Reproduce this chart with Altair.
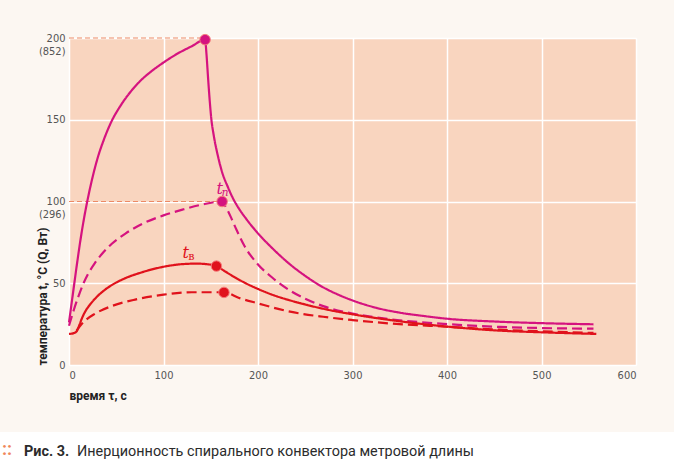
import altair as alt
import pandas as pd

# ---------------- data ----------------
# solid magenta curve
mag_solid_t = [0, 4, 8, 12, 16, 20, 25, 30, 37, 45, 55, 65, 75, 88, 100, 115, 130, 144,
               145.5, 147, 149, 150.6, 153, 157.7, 162, 168, 175.3, 180, 188, 200, 215, 234, 250, 269, 285,
               300, 325, 350, 375, 400, 450, 500, 555]
mag_solid_v = [26, 43, 60, 76, 90, 102, 115, 126, 138, 149, 159, 167, 173.5, 180, 185, 190.5, 195, 199,
               190, 177, 161, 150.5, 141, 127.5, 118, 109, 100, 95.5, 89, 80.5, 71.5, 61.5, 54.5, 47.5, 43,
               39.5, 35, 32, 30, 28.3, 26.6, 25.6, 24.9]
# dashed magenta curve (t_п)
mag_dash_t = [0, 5, 10, 15, 20, 27, 35, 45, 60, 80, 100, 120, 140, 162,
              165, 168, 172, 177, 186, 200, 215, 234, 250, 269, 300, 340, 400, 456, 555]
mag_dash_v = [24, 33.5, 42, 49.5, 55.5, 62, 68, 74, 80.5, 87, 91.5, 95, 98, 100,
              97.5, 94.5, 89.5, 83, 72.5, 61.5, 53.5, 45.5, 40.5, 36, 31.5, 28, 25, 23.3, 22.2]
# solid red curve (t_в)
red_solid_t = [0, 5, 8, 11, 14, 18, 23, 30, 38, 48, 60, 75, 90, 105, 120, 135, 147, 156,
               165, 175, 187, 200, 215, 234, 250, 269, 300, 340, 400, 456, 500, 558]
red_solid_v = [19, 19.5, 20.5, 24.5, 29, 33.5, 37.5, 42, 46, 49.8, 53.2, 56.3, 58.8, 60.6, 61.7, 62, 61.6, 60.5,
               57.3, 53.8, 50, 46.5, 43, 39.5, 37, 34.4, 31, 27.5, 23.5, 21, 20, 19]
# dashed red curve
red_dash_t = [8, 15, 28, 45, 70, 100, 130, 164,
              180, 200, 234, 269, 300, 340, 400, 456, 500, 555]
red_dash_v = [21, 26, 31.5, 36, 40, 43, 44.5, 44.5,
              41, 37.7, 32.6, 29.5, 27.5, 25.4, 23.4, 21.6, 20.6, 19.6]

series_names = ["mag_solid", "mag_dash", "red_solid", "red_dash"]
series_colors = ["#D5137F", "#D5137F", "#E0121C", "#E0121C"]
series_dashes = [[1, 0], [10, 5], [1, 0], [10, 5]]

# peak markers
dot_t = [144, 162, 156, 164]
dot_v = [199, 100, 60.5, 44.4]
dot_series = ["mag_solid", "mag_dash", "red_solid", "red_dash"]

# dashed reference lines to the y axis
ref_t_end = [144, 162]
ref_v = [200, 100]

# tick values and extra tick label lines
x_ticks = [0, 100, 200, 300, 400, 500, 600]
y_ticks = [0, 50, 100, 150, 200]
y_extra = {100: "(296)", 200: "(852)"}

# curve labels
lab_main = ["t", "t"]
lab_sub = ["п", "в"]
lab_t = [159.5, 123.5]
lab_v = [107.6, 68.5]
lab_sub_t = [165.2, 129.5]
lab_sub_v = [105.2, 65.8]
lab_color = ["#D5137F", "#E0121C"]
lab_sub_style = ["italic", "normal"]

x_title = "время τ, с"
y_title = "температура t, °C (Q, Вт)"
caption_mark = "::"
caption_bold = "Рис. 3."
caption_text = "Инерционность спирального конвектора метровой длины"

# ---------------- build tables ----------------
rows = []
for name, ts, vs in zip(series_names,
                        [mag_solid_t, mag_dash_t, red_solid_t, red_dash_t],
                        [mag_solid_v, mag_dash_v, red_solid_v, red_dash_v]):
    for i, (t, v) in enumerate(zip(ts, vs)):
        rows.append({"series": name, "t": t, "v": v, "i": i})
lines_df = pd.DataFrame(rows)
dots_df = pd.DataFrame({"series": dot_series, "t": dot_t, "v": dot_v})
ref_df = pd.DataFrame({"t0": [0, 0], "t1": ref_t_end, "v": ref_v})
lab_df = pd.DataFrame({"txt": lab_main, "sub": lab_sub, "t": lab_t, "v": lab_v,
                       "ts": lab_sub_t, "vs": lab_sub_v, "c": lab_color, "st": lab_sub_style})

W, H = 567, 327
xs = alt.Scale(domain=[0, 600], nice=False)
ys = alt.Scale(domain=[0, 200], nice=False)
col_scale = alt.Scale(domain=series_names, range=series_colors)
dash_scale = alt.Scale(domain=series_names, range=series_dashes)

parts = []
for k, v in y_extra.items():
    parts.append(f"datum.value == {k} ? [datum.label, '{v}'] : ")
label_expr = "".join(parts) + "datum.label"

label_font = "'Liberation Sans Narrow', 'DejaVu Sans Condensed', 'Roboto', sans-serif"

x_enc = alt.X("t:Q", scale=xs, axis=alt.Axis(
    values=x_ticks, grid=True, gridColor="white", gridWidth=1.5, domain=False, ticks=False,
    labelFont=label_font, labelFontSize=11, labelColor="#555555", labelPadding=4,
    title=x_title, titleFont="Roboto", titleFontSize=12, titleFontWeight="bold",
    titleColor="#222222", titleX=0, titleY=34, titleAlign="left", titleBaseline="alphabetic"))
y_enc = alt.Y("v:Q", scale=ys, axis=alt.Axis(
    values=y_ticks, grid=True, gridColor="white", gridWidth=1.5, domain=False, ticks=False,
    labelFont=label_font, labelFontSize=11, labelColor="#555555", labelPadding=4,
    labelExpr=label_expr, labelLineHeight=13,
    title=y_title, titleFont="Roboto", titleFontSize=12, titleFontWeight="bold",
    titleColor="#222222", titleAngle=-90, titleX=-27, titleY=H, titleAlign="left",
    titleBaseline="middle"))

lines = alt.Chart(lines_df).mark_line(strokeWidth=2.2, interpolate="monotone").encode(
    x=x_enc, y=y_enc,
    color=alt.Color("series:N", scale=col_scale, legend=None),
    strokeDash=alt.StrokeDash("series:N", scale=dash_scale, legend=None),
    detail="series:N", order="i:Q")

refs = alt.Chart(ref_df).mark_rule(color="#EC8A66", strokeWidth=1, strokeDash=[5, 3]).encode(
    x=alt.X("t0:Q", scale=xs), x2="t1:Q", y=alt.Y("v:Q", scale=ys))

dots = alt.Chart(dots_df).mark_circle(size=110, opacity=1, stroke="#F47C7C", strokeWidth=1).encode(
    x=alt.X("t:Q", scale=xs), y=alt.Y("v:Q", scale=ys),
    color=alt.Color("series:N", scale=col_scale, legend=None))

lab1 = alt.Chart(lab_df).mark_text(font="DejaVu Serif", fontStyle="italic", fontSize=16,
                                   align="center", baseline="middle").encode(
    x=alt.X("t:Q", scale=xs), y=alt.Y("v:Q", scale=ys), text="txt:N",
    color=alt.Color("c:N", scale=None))
sub_layers = []
for style in ["italic", "normal"]:
    sub_layers.append(
        alt.Chart(lab_df).transform_filter(alt.datum.st == style).mark_text(
            font="DejaVu Serif", fontSize=11, fontStyle=style,
            align="center", baseline="middle").encode(
            x=alt.X("ts:Q", scale=xs), y=alt.Y("vs:Q", scale=ys), text="sub:N",
            color=alt.Color("c:N", scale=None)))

one = pd.DataFrame({"a": [0]})
white_band = alt.Chart(one).mark_rect(color="white").encode(
    x=alt.value(-69), x2=alt.value(W + 38), y=alt.value(394), y2=alt.value(H + 95))
cap0 = alt.Chart(one).mark_text(text=caption_mark, color="#F0875A", fontSize=18, font="Roboto",
                                fontWeight="bold", align="left", baseline="alphabetic").encode(
    x=alt.value(-67), y=alt.value(417))
cap1 = alt.Chart(one).mark_text(text=caption_bold, color="#2B2B2B", fontSize=14.4, font="Roboto",
                                fontWeight="bold", align="left", baseline="alphabetic").encode(
    x=alt.value(-45), y=alt.value(418))
cap2 = alt.Chart(one).mark_text(text=caption_text, color="#2B2B2B", fontSize=14.4, font="Roboto",
                                align="left", baseline="alphabetic").encode(
    x=alt.value(8), y=alt.value(418))

chart = alt.layer(white_band, refs, lines, dots, lab1, *sub_layers, cap0, cap1, cap2).properties(
    width=W, height=H, background="#FCF7F2",
    padding={"left": 69, "top": 38, "right": 38, "bottom": 95},
    autosize=alt.AutoSizeParams(type="none"),
).configure_view(fill="#F9D5BF", stroke=None)

chart.save("out.html", embed_options={"renderer": "svg", "actions": False})
